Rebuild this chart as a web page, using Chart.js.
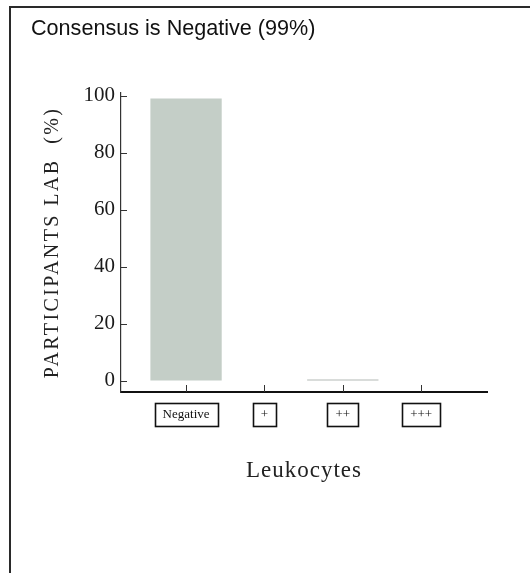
<!DOCTYPE html>
<html>
<head>
<meta charset="utf-8">
<script src="https://cdn.jsdelivr.net/npm/chart.js@4.4.1/dist/chart.umd.min.js"></script>
<style>
  html, body { margin: 0; padding: 0; background: #fff; overflow: hidden; }
  #wrap { position: relative; width: 530px; height: 573px; overflow: hidden; }
  #frame { position: absolute; left: 9px; top: 6px; width: 600px; height: 600px;
           border-left: 2px solid #2a2a2a; border-top: 2px solid #2a2a2a; }
  canvas { position: absolute; left: 0; top: 0; }
</style>
</head>
<body>
<div id="wrap">
  <div id="frame"></div>
  <canvas id="c" width="530" height="573"></canvas>
</div>
<script>
// ---- data ----
const categories = ["Negative", "+", "++", "+++"];
const participantsLab = [99, 0, 0.5, 0];
const yTicks = [0, 20, 40, 60, 80, 100];
const chartTitle = "Consensus is Negative (99%)";
const yTitle = "PARTICIPANTS LAB  (%)";
const xTitle = "Leukocytes";

const serif = "'Liberation Serif', 'Times New Roman', serif";
const xTickFont = { family: serif, size: 13 };
const xTickPad = 15;

const insideTicks = {
  id: 'insideTicks',
  afterDraw(chart) {
    const { ctx, chartArea } = chart;
    const xs = chart.scales.x, ys = chart.scales.y;
    ctx.save();
    ctx.strokeStyle = '#333';
    ctx.lineWidth = 1;
    ys.ticks.forEach(t => {
      const py = Math.round(ys.getPixelForValue(t.value)) + 0.5;
      ctx.beginPath(); ctx.moveTo(chartArea.left, py); ctx.lineTo(chartArea.left + 6, py); ctx.stroke();
    });
    xs.ticks.forEach(t => {
      const px = Math.round(xs.getPixelForValue(t.value)) + 0.5;
      ctx.beginPath(); ctx.moveTo(px, chartArea.bottom); ctx.lineTo(px, chartArea.bottom - 7); ctx.stroke();
    });
    // boxes around x tick labels
    ctx.font = xTickFont.size + 'px ' + serif;
    ctx.strokeStyle = '#111';
    ctx.lineWidth = 1.6;
    const lh = xTickFont.size * 1.2;
    const cy = xs.top + xTickPad + lh / 2;
    xs.ticks.forEach(t => {
      const label = categories[t.value];
      if (label === undefined) return;
      const w = ctx.measureText(label).width + 16;
      const h = 23;
      const px = xs.getPixelForValue(t.value);
      ctx.strokeRect(Math.round(px - w / 2) + 0.5, Math.round(cy - h / 2) + 0.5, Math.round(w), h);
    });
    ctx.restore();
  }
};

const spacedTitles = {
  id: 'spacedTitles',
  afterLayout(chart) {
    [['y', '2.4px'], ['x', '1px']].forEach(([id, sp]) => {
      const s = chart.scales[id];
      if (s._patched) return;
      const orig = s.drawTitle.bind(s);
      s.drawTitle = function () {
        const ctx = this.ctx;
        ctx.save();
        ctx.letterSpacing = sp;
        orig();
        ctx.restore();
      };
      s._patched = true;
    });
  }
};

new Chart(document.getElementById('c'), {
  type: 'bar',
  data: {
    datasets: [{
      data: participantsLab.map((v, i) => ({ x: i, y: v })),
      backgroundColor: ['#c4cec7', '#c4cec7', '#b3bab5', '#c4cec7'],
      borderWidth: 0,
      barPercentage: 0.91,
      categoryPercentage: 1.0
    }]
  },
  options: {
    responsive: false,
    animation: false,
    devicePixelRatio: 1,
    layout: { padding: { left: 31, right: 43, top: 0, bottom: 0 } },
    plugins: {
      legend: { display: false },
      tooltip: { enabled: false },
      title: {
        display: true,
        text: chartTitle,
        align: 'start',
        color: '#111',
        font: { family: "'Liberation Sans', Arial, sans-serif", size: 21.6, weight: 'normal' },
        padding: { top: 16, bottom: 51 }
      }
    },
    scales: {
      x: {
        type: 'linear',
        offset: false,
        min: -0.83,
        max: 3.84,
        afterFit(scale) { scale.height = 181; },
        afterBuildTicks(scale) { scale.ticks = categories.map((c, i) => ({ value: i })); },
        grid: { display: true, drawOnChartArea: false, drawTicks: false, offset: false },
        border: { display: true, color: '#111', width: 2 },
        ticks: {
          padding: xTickPad,
          color: '#111',
          font: xTickFont,
          maxRotation: 0,
          autoSkip: false,
          callback: (v) => categories[v]
        },
        title: {
          display: true,
          text: xTitle,
          color: '#222',
          font: { family: serif, size: 23 },
          padding: { top: 0, bottom: 88 }
        }
      },
      y: {
        min: -3.9,
        max: 101,
        afterFit(scale) { scale.width = 90; },
        afterBuildTicks(scale) { scale.ticks = yTicks.map(v => ({ value: v })); },
        grid: { display: true, drawOnChartArea: false, drawTicks: false },
        border: { display: true, color: '#333', width: 1.2 },
        ticks: {
          padding: 6,
          color: '#1a1a1a',
          font: { family: serif, size: 21 }
        },
        title: {
          display: true,
          text: yTitle,
          color: '#222',
          font: { family: serif, size: 20 },
          padding: { top: 10, bottom: 0 }
        }
      }
    }
  },
  plugins: [insideTicks, spacedTitles]
});
</script>
</body>
</html>
